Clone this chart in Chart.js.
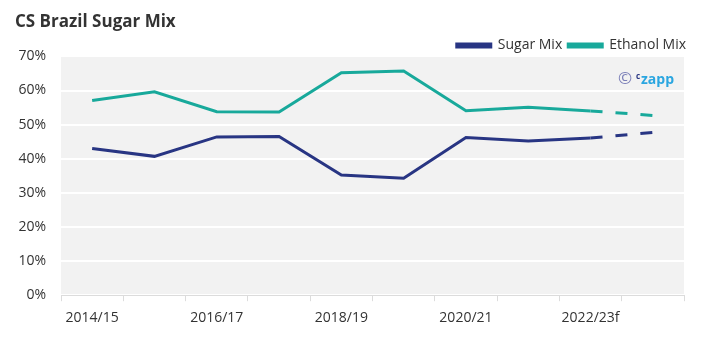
<!DOCTYPE html>
<html>
<head>
<meta charset="utf-8">
<script src="https://cdn.jsdelivr.net/npm/chart.js@4.4.0/dist/chart.umd.min.js"></script>
<style>
  html, body { margin: 0; padding: 0; background: #fff; }
  #wrap { width: 714px; height: 339px; }
</style>
</head>
<body>
<div id="wrap"><canvas id="mixChart"></canvas></div>
<script>
// Crop seasons (f = forecast)
const seasons = ['2014/15', '2015/16', '2016/17', '2017/18', '2018/19', '2019/20', '2020/21', '2021/22', '2022/23f', '2023/24f'];
// Share of cane crushed into each product, %
const sugarMix = [43.0, 40.7, 46.4, 46.5, 35.2, 34.3, 46.2, 45.2, 46.1, 47.7];
const ethanolMix = [57.1, 59.6, 53.8, 53.7, 65.2, 65.7, 54.1, 55.1, 54.0, 52.7];
const yTicks = [0, 10, 20, 30, 40, 50, 60, 70];

const sugarColor = '#283583';
const ethanolColor = '#18a99b';
Chart.defaults.font.family = '"Open Sans", sans-serif';
Chart.defaults.color = '#333';

// dashed line for the last (forecast) segment
const forecastDash = ctx => ctx.p1DataIndex === seasons.length - 1 ? [12, 13] : undefined;

// grey plot background + czapp mark
const plotBg = {
    id: 'plotBg',
    afterInit(chart) {
        // keep item spacing in the legend but make its box a bit shorter
        const legend = chart.legend;
        const fit = legend.fit.bind(legend);
        legend.fit = function () { fit(); this.height -= 6; };
    },
    beforeDraw(chart) {
        const { ctx, chartArea: a } = chart;
        ctx.save();
        ctx.fillStyle = '#f2f2f2';
        ctx.fillRect(a.left, a.top, a.right - a.left, a.bottom - a.top);
        ctx.restore();
    },
    afterDraw(chart) {
        const { ctx, chartArea: a } = chart;
        ctx.save();
        ctx.textBaseline = 'middle';
        ctx.fillStyle = '#7b7fb8';
        ctx.font = '17px "Open Sans"';
        ctx.fillText('\u00a9', a.right - 66, a.top + 23);
        ctx.fillStyle = '#283583';
        ctx.font = 'bold 8px "Open Sans"';
        ctx.fillText('c', a.right - 48, a.top + 20);
        ctx.fillStyle = '#2ba6e0';
        ctx.font = 'bold 14px "Open Sans"';
        ctx.fillText('zapp', a.right - 43, a.top + 24);
        ctx.restore();
    }
};

const ctx = document.getElementById('mixChart').getContext('2d');
const mixChart = new Chart(ctx, {
    type: 'line',
    data: {
        labels: seasons,
        datasets: [
            {
                label: 'Sugar Mix',
                data: sugarMix,
                borderColor: sugarColor,
                backgroundColor: sugarColor,
                borderWidth: 3,
                pointRadius: 0,
                tension: 0,
                segment: { borderDash: forecastDash },
            },
            {
                label: 'Ethanol Mix',
                data: ethanolMix,
                borderColor: ethanolColor,
                backgroundColor: ethanolColor,
                borderWidth: 3,
                pointRadius: 0,
                tension: 0,
                segment: { borderDash: forecastDash },
            },
        ],
    },
    options: {
        responsive: true,
        maintainAspectRatio: false,
        animation: false,
        layout: { padding: { left: 15, right: 22, top: 12, bottom: 5 } },
        plugins: {
            title: {
                display: true,
                text: 'CS Brazil Sugar Mix',
                align: 'start',
                color: '#333',
                font: { size: 17, weight: 'bold' },
                padding: { top: 0, bottom: 0 },
            },
            legend: {
                align: 'end',
                labels: {
                    boxWidth: 34,
                    boxHeight: 3,
                    padding: 6,
                    color: '#333',
                    font: { size: 14 },
                },
            },
            tooltip: { enabled: false },
        },
        scales: {
            x: {
                offset: true,
                grid: {
                    offset: true,
                    drawOnChartArea: false,
                    tickLength: 6,
                    color: '#dcdcdc',
                },
                border: { color: '#dcdcdc' },
                ticks: {
                    autoSkip: false,
                    maxRotation: 0,
                    font: { size: 14 },
                    padding: 8,
                    callback: (v, i) => (i % 2 === 0 ? seasons[i] : ''),
                },
            },
            y: {
                min: 0,
                max: 70,
                afterBuildTicks: axis => { axis.ticks = yTicks.map(v => ({ value: v })); },
                afterFit: axis => { axis.width = 46; },
                grid: { color: '#ffffff', lineWidth: 2, drawTicks: false },
                border: { display: false },
                ticks: {
                    font: { size: 14 },
                    padding: 15,
                    callback: v => v + '%',
                },
            },
            // empty spacer so the legend can sit right of the plot edge
            yRight: {
                position: 'right',
                min: 0,
                max: 70,
                afterFit: axis => { axis.width = 8; },
                grid: { drawOnChartArea: false, drawTicks: false },
                border: { display: false },
                ticks: { display: false },
            },
        },
    },
    plugins: [plotBg],
});
</script>
</body>
</html>
